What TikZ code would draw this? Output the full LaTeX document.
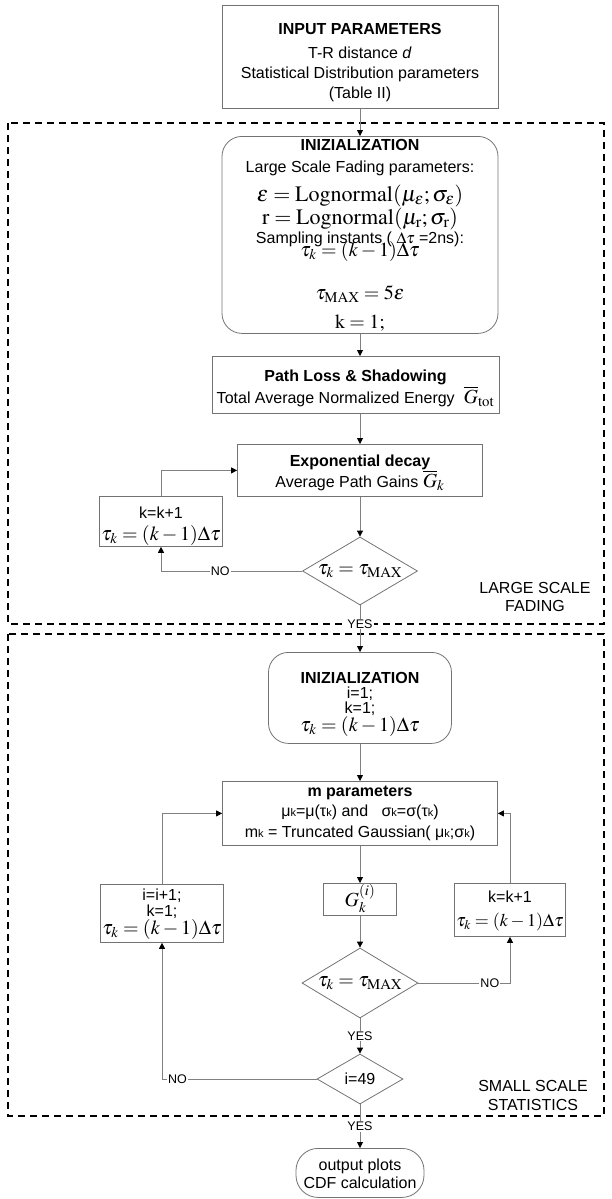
\documentclass[tikz,border=0pt]{standalone}
\usepackage{mathptmx}
\usepackage[no-math]{fontspec}
\setmainfont{Liberation Sans}
\usetikzlibrary{shapes.geometric,arrows.meta}
\definecolor{boxgray}{gray}{0.45}
\definecolor{linegray}{gray}{0.5}
\newcommand{\fmath}[2][20]{{\fontsize{#1}{0pt}\selectfont$#2$}}
\newcommand{\sk}{{\fontsize{11}{0pt}\selectfont k}}
\newcommand{\tightlines}{\lineskiplimit=-1000pt\relax}
\tikzset{
  box/.style={draw=boxgray, line width=0.8pt, align=center, anchor=north, inner xsep=2pt, inner ysep=0pt},
  rbox/.style={box, rounded corners=20pt},
  test/.style={draw=boxgray, line width=0.8pt, diamond, aspect=1.7, inner sep=0pt},
  flow/.style={draw=linegray, line width=0.8pt, -{Triangle[length=6pt,width=6pt,color=black]}},
  region/.style={line width=1.2pt, dash pattern=on 7pt off 5pt},
  lbl/.style={fill=white, inner sep=1pt, font={\fontsize{12.5}{0pt}\selectfont}},
}
\begin{document}
\begin{tikzpicture}[x=1pt,y=-1pt,font={\fontsize{16}{0pt}\selectfont\tightlines}]
\useasboundingbox (0,0) rectangle (612,1199);
% the two dashed regions
\draw[region] (8,123) rectangle (604,624);
\draw[region] (8,634) rectangle (604,1116);
\node[align=center, anchor=north, inner ysep=0pt, text height=30pt] (lsf) at (535,581) {LARGE SCALE\\[18pt]FADING};
\node[align=center, anchor=north, inner ysep=0pt, text height=31pt] (sss) at (533,1079) {SMALL SCALE\\[19pt]STATISTICS};
% large scale fading
\node[box, minimum width=276, text height=93pt, text depth=10pt] (in) at (360,5) {\textbf{INPUT PARAMETERS}\\[24pt] T-R distance \textit{d}\\[20pt] Statistical Distribution parameters\\[20pt] (Table II)};
\node[rbox, minimum width=276, text height=192pt, text depth=5pt] (init1) at (360,136) {\textbf{INIZIALIZATION}\\[22pt] Large Scale Fading parameters:\\[29pt] \fmath[22]{\varepsilon=\mathrm{Lognormal}(\mu_\varepsilon;\sigma_\varepsilon)}\\[23pt] \fmath[22]{\mathrm{r}=\mathrm{Lognormal}(\mu_\mathrm{r};\sigma_\mathrm{r})}\\[19pt] Sampling instants ( $\Delta\tau$ =2ns):\\[13pt] \fmath{\tau_k=(k-1)\Delta\tau}\\[43pt] \fmath{\tau_{\mathrm{MAX}}=5\varepsilon}\\[29pt] \fmath{\mathrm{k}=1;}};
\node[box, minimum width=287, text height=47pt, text depth=10pt] (loss) at (355.5,356) {\textbf{Path Loss \& Shadowing}\\[22pt] Total Average Normalized Energy\ \ \fmath{\overline{G}_{\mathrm{tot}}}};
\node[box, minimum width=245, text height=43pt, text depth=9pt] (decay) at (360,444) {\textbf{Exponential decay}\\[21pt] Average Path Gains\ \fmath{\overline{G}_k}};
\node[box, minimum width=116, text height=44pt, text depth=6pt] (kinc) at (161,496) {k=k+1\\[22pt]\fmath{\tau_k=(k-1)\Delta\tau}};
\node[test, minimum width=115, minimum height=68] (test1) at (360,571) {\fmath{\tau_k=\tau_{\mathrm{MAX}}}};
% small scale statistics
\node[rbox, minimum width=183, text height=79pt, text depth=12pt] (init2) at (360,652) {\textbf{INIZIALIZATION}\\[15pt] i=1;\\[15pt] k=1;\\[18pt] \fmath{\tau_k=(k-1)\Delta\tau}};
\node[box, minimum width=275, text height=56pt, text depth=8pt] (mpar) at (360,781) {\textbf{m parameters}\\[20pt] μ\sk=μ(τ\sk) and\ \ \ σ\sk=σ(τ\sk)\\[21pt] m\sk{} = Truncated Gaussian( μ\sk;σ\sk)};
\node[box, minimum width=73, text height=23pt, text depth=9pt] (gk) at (360,883) {\fmath{G_k^{(i)}}};
\node[box, minimum width=99, text height=43pt, text depth=10pt] (kinc2) at (510,883) {k=k+1\\[24pt]\fmath[18]{\tau_k=(k-1)\Delta\tau}};
\node[box, minimum width=119, text height=50pt, text depth=8pt] (iinc) at (162,884) {i=i+1;\\[16pt] k=1;\\[18pt] \fmath{\tau_k=(k-1)\Delta\tau}};
\node[test, minimum width=116, minimum height=70] (test2) at (360,983) {\fmath{\tau_k=\tau_{\mathrm{MAX}}}};
\node[test, minimum width=86, minimum height=50] (test3) at (360,1079) {i=49};
\node[rbox, minimum width=128, text height=40pt, text depth=9pt, rounded corners=22pt] (out) at (360,1148) {output plots\\[18pt] CDF calculation};
% connectors
\draw[flow] (in.south) -- (init1.north);
\draw[flow] (init1.south) -- (init1.south |- loss.north);
\draw[flow] (init1.south |- loss.south) -- (decay.north);
\draw[flow] (decay.south) -- (test1.north);
\draw[flow] (test1.west) -| node[lbl, pos=0.29] (no1) {NO} (kinc.south);
\draw[flow] (kinc.north) |- (decay.west);
\draw[flow] (test1.south) -- node[lbl, pos=0.4] (yes1) {YES} (init2.north);
\draw[flow] (init2.south) -- (mpar.north);
\draw[flow] (mpar.south) -- (gk.north);
\draw[flow] (gk.south) -- (test2.north);
\draw[flow] (test2.east) -| node[lbl, pos=0.39] (no2) {NO} (kinc2.south);
\draw[flow] (kinc2.north) |- (mpar.east);
\draw[flow] (iinc.north) |- (mpar.west);
\draw[flow] (test2.south) -- node[lbl] (yes2) {YES} (test3.north);
\draw[flow] (test3.west) -| node[lbl, pos=0.45] (no3) {NO} (iinc.south);
\draw[flow] (test3.south) -- node[lbl] (yes3) {YES} (out.north);
\end{tikzpicture}
\end{document}
